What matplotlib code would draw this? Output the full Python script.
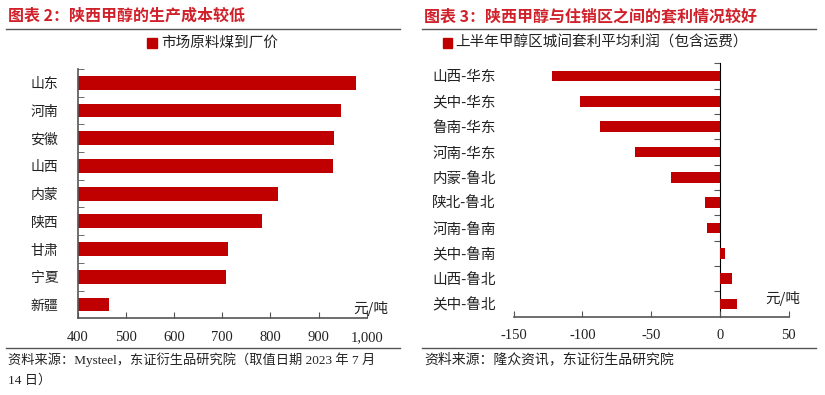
import matplotlib.pyplot as plt
from matplotlib.ticker import FuncFormatter
import numpy as np

plt.rcParams['font.family'] = ['Noto Sans CJK SC', 'DejaVu Sans']
plt.rcParams['axes.unicode_minus'] = False

# 图表2 数据
provinces = ['山东', '河南', '安徽', '山西', '内蒙', '陕西', '甘肃', '宁夏', '新疆']
coal_price = [978, 947, 932, 929, 815, 782, 713, 708, 465]

# 图表3 数据
routes = ['山西-华东', '关中-华东', '鲁南-华东', '河南-华东', '内蒙-鲁北',
          '陕北-鲁北', '河南-鲁南', '关中-鲁南', '山西-鲁北', '关中-鲁北']
arb_profit = [-122.4, -101.8, -87.3, -61.8, -35.6, -10.9, -9.2, 3.6, 8.5, 12.6]

RED = '#C00000'
TITLE_RED = '#D0202A'
GRAY = '#555555'
TXT = '#222222'
num_font = 'Liberation Serif'
mix_font = ['Liberation Serif', 'Noto Sans CJK SC']

fig = plt.figure(figsize=(8.25, 3.95), dpi=100)

def px(x, y):
    return x / 825, 1 - y / 395

# ---------- 左图 ----------
ax1 = fig.add_axes([77.7/825, 1-318.3/395, (366.7-77.7)/825, (318.3-69)/395])
y1 = np.arange(len(provinces))
ax1.barh(y1, [v - 400 for v in coal_price], left=400, height=0.5, color=RED)
ax1.set_xlim(400, 1000)
ax1.set_ylim(len(provinces) - 0.5, -0.5)
ax1.set_xticks(np.arange(400, 1001, 100))
ax1.xaxis.set_major_formatter(FuncFormatter(lambda v, p: f'{int(v):,}'))
ax1.set_yticks(y1)
ax1.set_yticklabels(provinces, fontsize=10, color=TXT)
ax1.set_yticks(np.arange(-0.5, len(provinces) - 0.5, 1), minor=True)
ax1.tick_params(axis='y', which='major', length=0, pad=14)
ax1.tick_params(axis='y', which='minor', direction='in', length=4, color=GRAY)
ax1.tick_params(axis='x', direction='in', length=4, color=GRAY, pad=9)
for lab in ax1.get_xticklabels():
    lab.set_fontfamily(num_font)
    lab.set_fontsize(10.5)
    lab.set_color(TXT)
for s in ['top', 'right']:
    ax1.spines[s].set_visible(False)
for s in ['left', 'bottom']:
    ax1.spines[s].set_color(GRAY)
    ax1.spines[s].set_linewidth(1.2)
fig.text(*px(371, 308), '元/吨', fontsize=10.5, ha='center', va='center', color=TXT)

# ---------- 右图 ----------
ax2 = fig.add_axes([513.7/825, 1-316.7/395, (788.7-513.7)/825, (316.7-63.3)/395])
y2 = np.arange(len(routes))
ax2.barh(y2, arb_profit, height=0.42, color=RED)
ax2.set_xlim(-150, 50)
ax2.set_ylim(len(routes) - 0.5, -0.5)
ax2.set_xticks(np.arange(-150, 51, 50))
ax2.set_yticks(y2)
ax2.set_yticklabels(routes, fontsize=10.5, color=TXT)
ax2.tick_params(axis='y', which='major', length=0, pad=13)
ax2.tick_params(axis='x', direction='in', length=4, color=GRAY, pad=9)
for lab in ax2.get_xticklabels():
    lab.set_fontfamily(num_font)
    lab.set_fontsize(10.5)
    lab.set_color(TXT)
for s in ['top', 'right', 'left']:
    ax2.spines[s].set_visible(False)
ax2.spines['bottom'].set_color(GRAY)
ax2.spines['bottom'].set_linewidth(1.2)
sec = ax2.secondary_yaxis(0.75)
sec.set_yticks(np.arange(-0.5, len(routes) - 0.5, 1))
sec.set_yticklabels([])
sec.tick_params(axis='y', direction='in', length=4, color=GRAY)
sec.spines['left'].set_color(GRAY)
sec.spines['left'].set_linewidth(1.2)
fig.text(*px(783, 298), '元/吨', fontsize=10.5, ha='center', va='center', color=TXT)

# ---------- 标题、图例、来源 ----------
fig.text(*px(8, 16), '图表 2：陕西甲醇的生产成本较低', fontsize=11.5, fontweight='bold',
         color=TITLE_RED, va='center', ha='left')
fig.text(*px(424, 16), '图表 3：陕西甲醇与住销区之间的套利情况较好', fontsize=11.5,
         fontweight='bold', color=TITLE_RED, va='center', ha='left')
for x0, x1 in [(6, 400), (422, 816)]:
    for yy in [28.7, 347.7]:
        fig.add_artist(plt.Line2D([x0/825, x1/825], [1-yy/395]*2, color=GRAY, lw=1))

fig.add_artist(plt.Rectangle(px(147, 48), 10/825, 10/395, color=RED,
                             transform=fig.transFigure))
fig.text(*px(161, 43), '市场原料煤到厂价', fontsize=10.5, va='center', ha='left',
         color=TXT)
fig.add_artist(plt.Rectangle(px(443, 48), 9/825, 10/395, color=RED,
                             transform=fig.transFigure))
fig.text(*px(455, 43), '上半年甲醇区城间套利平均利润（包含运费）', fontsize=10.5,
         va='center', ha='left', color=TXT)

fig.text(*px(8, 360), '资料来源：Mysteel，东证衍生品研究院（取值日期 2023 年 7 月',
         fontsize=9.5, va='center', ha='left', color=TXT, family=mix_font)
fig.text(*px(8, 380), '14 日）', fontsize=9.5, va='center', ha='left', color=TXT,
         family=mix_font)
fig.text(*px(424, 359), '资料来源：隆众资讯，东证衍生品研究院', fontsize=10,
         va='center', ha='left', color=TXT, family=mix_font)

fig.savefig('out.png', dpi=100)
